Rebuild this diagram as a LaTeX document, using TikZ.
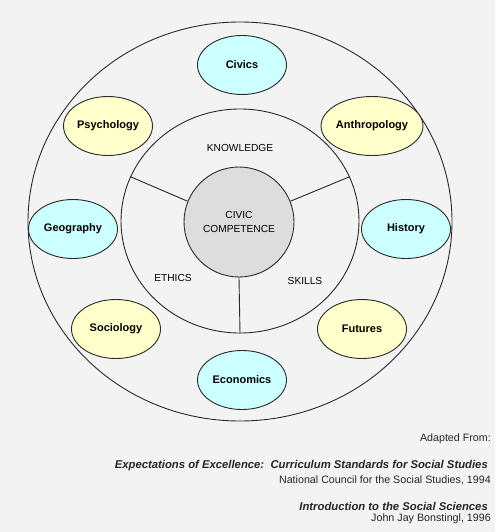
\documentclass[tikz,border=0pt]{standalone}
\usepackage{fontspec}
\setmainfont{Liberation Sans}
\usetikzlibrary{shapes.geometric}
\definecolor{bg}{HTML}{F3F3F3}
\definecolor{cyanfill}{HTML}{CCFFFF}
\definecolor{yellowfill}{HTML}{FFFFCC}
\definecolor{grayfill}{HTML}{DDDDDD}
\definecolor{edge}{HTML}{2A2A2A}
\tikzset{
  ring/.style={draw=edge, line width=0.9pt, ellipse, inner sep=0pt},
  subj/.style={draw=edge, line width=0.9pt, ellipse, inner sep=0pt, minimum width=89pt, minimum height=59pt, font=\fontsize{11}{13}\selectfont\bfseries},
  cyansubj/.style={subj, fill=cyanfill},
  yellowsubj/.style={subj, fill=yellowfill},
  core/.style={draw=edge, line width=0.9pt, circle, fill=grayfill, minimum size=110pt, inner sep=0pt, align=center, font=\fontsize{10.2}{14}\selectfont},
  facet/.style={font=\fontsize{10.2}{12}\selectfont, inner sep=0pt},
  spoke/.style={draw=edge, line width=0.9pt},
  cite/.style={anchor=east, inner sep=0pt, font=\fontsize{10.7}{13}\selectfont, text=black!85},
  citetitle/.style={cite, font=\fontsize{11.3}{13}\selectfont\bfseries\itshape}
}
\begin{document}
\begin{tikzpicture}[x=1pt,y=-1pt]
\fill[bg] (0,0) rectangle (495,532);
\useasboundingbox (0,0) rectangle (495,532);
\node[ring, minimum width=424pt, minimum height=399pt] (outer) at (240,221.5) {};
\node[ring, minimum width=238pt, minimum height=224pt] (inner) at (240,221) {};
\node[core] (cc) at (239,222) {CIVIC\\COMPETENCE};
\draw[spoke] (cc.158.5) -- (inner.158.5);
\draw[spoke] (cc.22.4) -- (inner.22.4);
\draw[spoke] (cc.south) -- (inner.south);
\node[facet] (know) at (240,148) {KNOWLEDGE};
\node[facet] (eth) at (173,278) {ETHICS};
\node[facet] (skill) at (305,281) {SKILLS};
\node[cyansubj] (civics) at (242,65) {Civics};
\node[yellowsubj] (psych) at (108,126) {Psychology};
\node[yellowsubj] (anth) at (372,126) {Anthropology};
\node[cyansubj] (geo) at (73,229) {Geography};
\node[cyansubj] (hist) at (406,229) {History};
\node[yellowsubj] (soc) at (116,329) {Sociology};
\node[yellowsubj] (fut) at (362,329) {Futures};
\node[cyansubj] (econ) at (242,380) {Economics};
\node[cite] (adapted) at (491,439) {Adapted From:};
\node[citetitle] (t1) at (488,466) {Expectations of Excellence:\ \ Curriculum Standards for Social Studies};
\node[cite] (a1) at (491,480) {National Council for the Social Studies, 1994};
\node[citetitle] (t2) at (488,506) {Introduction to the Social Sciences};
\node[cite] (a2) at (491,519) {John Jay Bonstingl, 1996};
\end{tikzpicture}
\end{document}
